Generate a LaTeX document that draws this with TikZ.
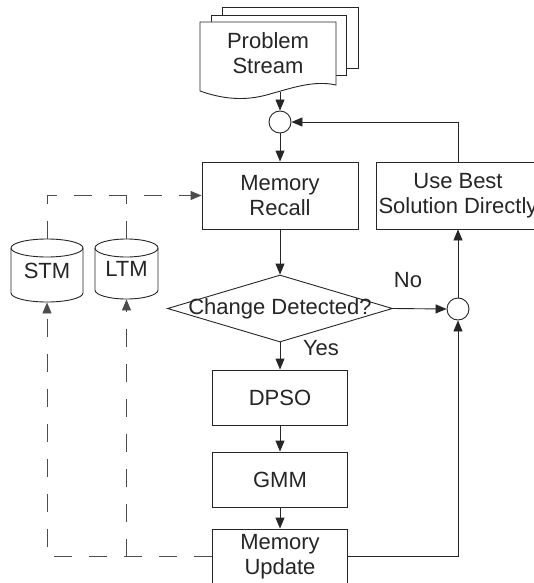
\documentclass[tikz,border=0pt]{standalone}
\usepackage{fontspec}
\setmainfont{Liberation Sans}
\usetikzlibrary{arrows.meta,shapes.geometric}
\begin{document}
\begin{tikzpicture}[x=1pt,y=-1pt,
  line width=0.9pt, draw=black!85,
  every node/.style={font=\fontsize{22}{25}\selectfont, text=black!85},
  proc/.style={draw, fill=white, align=center, inner sep=0pt},
  junc/.style={draw, circle, minimum size=22pt, inner sep=0pt},
  flow/.style={-{Triangle[length=11pt,width=9pt]}},
  memlink/.style={draw=black!70, dash pattern=on 18pt off 17pt},
  memstore/.style={minimum width=#1, inner sep=0pt}
]
\useasboundingbox (0,0) rectangle (534,583);
\clip (0,0) rectangle (534,583);
\fill[white] (0,0) rectangle (534,583);

% stacked document shape for the incoming problems
\draw (222,15) -- (222,7) -- (358,7) -- (358,68) -- (346,68);
\draw (211,22) -- (211,15) -- (346,15) -- (346,75) -- (336,75);
\draw[fill=white] (336,22) -- (200,22) -- (200,91)
  .. controls (228,101) and (250,100) .. (270,94)
  .. controls (292,88) and (314,80) .. (336,85) -- cycle;
\node[align=center] (stream) at (268,53) {Problem\\Stream};
\coordinate (docout) at (280,92);

% main process chain
\node[junc] (j1) at (280,122) {};
\node[proc, minimum width=156pt, minimum height=67pt] (recall) at (280,195.5) {Memory\\Recall};
\node[proc, minimum width=164pt, minimum height=67pt] (best) at (458,195.5) {Use Best\\Solution Directly};
\node[draw, diamond, minimum width=225pt, minimum height=67pt, inner sep=0pt] (detect) at (280,308.5) {\makebox[0pt]{Change Detected?}};
\node[junc] (j2) at (458,309) {};
\node[proc, minimum width=135pt, minimum height=55pt] (dpso) at (280,397.5) {DPSO};
\node[proc, minimum width=135pt, minimum height=55pt] (gmm) at (280,479.5) {GMM};
\node[proc, minimum width=135pt, minimum height=55pt] (update) at (280,556.5) {Memory\\Update};

\node (no) at (408,280) {No};
\node (yes) at (321,348) {Yes};

% memory stores
\node[memstore=72pt, minimum height=63pt] (stm) at (47,270.5) {STM};
\node[memstore=63pt, minimum height=60pt] (ltm) at (126.5,269) {LTM};
\draw (11,248) -- (11,293) arc[start angle=180, end angle=360, x radius=36pt, y radius=9pt] -- (83,248);
\draw (47,248) ellipse[x radius=36pt, y radius=9pt];
\draw (95,248) -- (95,290) arc[start angle=180, end angle=360, x radius=31.5pt, y radius=9pt] -- (158,248);
\draw (126.5,248) ellipse[x radius=31.5pt, y radius=9pt];

% solid flow
\draw[flow] (docout) -- (j1);
\draw[flow] (j1) -- (recall);
\draw[flow] (recall) -- (detect);
\draw[flow] (detect.south) -- (dpso.north);
\draw[flow] (dpso) -- (gmm);
\draw[flow] (gmm) -- (update);
\draw[flow] (detect.east) -- (j2.west);
\draw[flow] (j2) -- (best);
\draw[flow] (update.east) -| (j2.south);
\draw[flow] (best.north) |- (j1.east);

% dashed memory links
\draw[memlink, flow] (stm.north) |- (recall.west);
\draw[memlink] (ltm.north) -- (ltm.north |- recall.west);
\draw[memlink, flow] (update.west) -| (stm.south);
\draw[memlink, flow] (ltm.south |- update.west) -- (ltm.south);
\end{tikzpicture}
\end{document}
